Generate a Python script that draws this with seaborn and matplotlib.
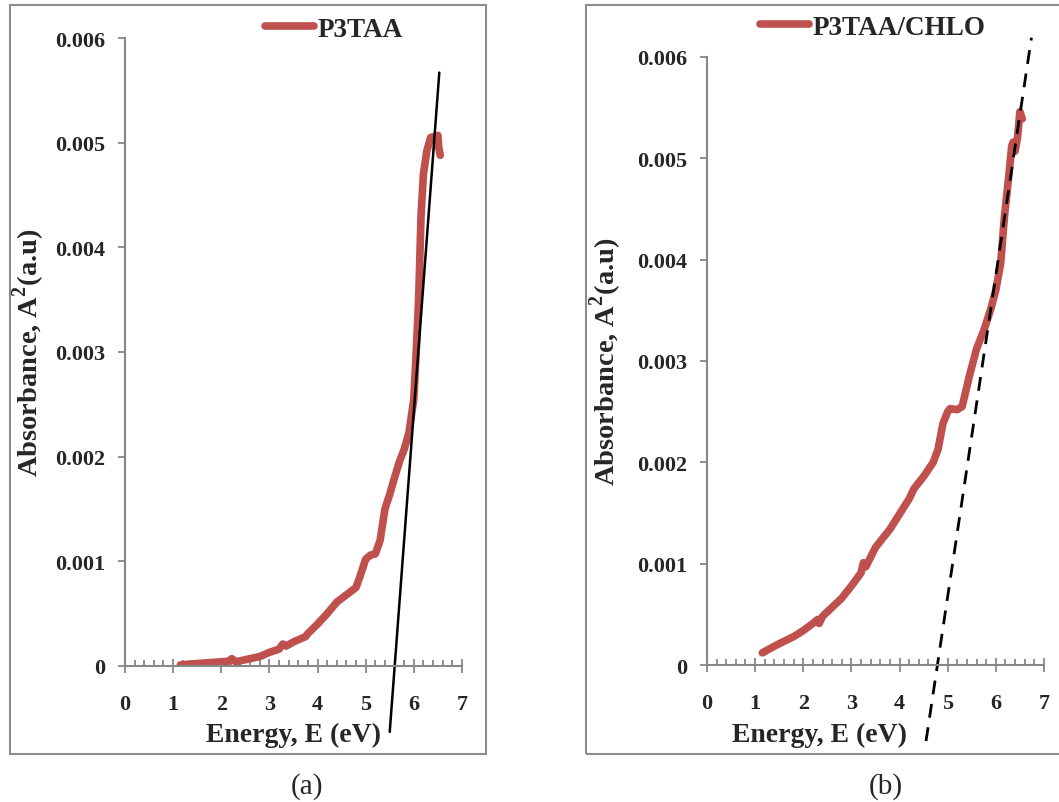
import numpy as np
import pandas as pd
import matplotlib
matplotlib.use("Agg")
import matplotlib.pyplot as plt
from matplotlib.patches import Rectangle
from matplotlib.ticker import MultipleLocator, FuncFormatter
import seaborn as sns

# P3TAA  (energy in eV, absorbance^2 in units of 1e-3)
energy_a = [1.15, 1.4, 1.7, 2.0, 2.15, 2.22, 2.3, 2.5, 2.8, 3.0, 3.2, 3.28, 3.35, 3.5,
            3.75, 3.8, 4.0, 4.2, 4.4, 4.6, 4.8, 4.9, 5.0, 5.1, 5.2, 5.3, 5.4, 5.5, 5.6,
            5.7, 5.8, 5.9, 6.0, 6.05, 6.1, 6.15, 6.2, 6.27, 6.35, 6.45, 6.5, 6.52, 6.55]
absorb_a = [0.01, 0.02, 0.03, 0.04, 0.045, 0.07, 0.04, 0.06, 0.09, 0.13, 0.16, 0.21, 0.19,
            0.23, 0.28, 0.31, 0.40, 0.50, 0.61, 0.68, 0.75, 0.88, 1.02, 1.06, 1.07, 1.2,
            1.5, 1.64, 1.8, 1.95, 2.07, 2.23, 2.55, 3.0, 3.5, 4.3, 4.7, 4.92, 5.05, 5.06,
            5.07, 4.95, 4.88]

# P3TAA/CHLO
energy_b = [1.15, 1.3, 1.5, 1.8, 2.0, 2.2, 2.3, 2.33, 2.4, 2.6, 2.8, 3.0, 3.2, 3.25, 3.3,
            3.5, 3.8, 4.0, 4.2, 4.3, 4.5, 4.7, 4.8, 4.9, 5.0, 5.05, 5.2, 5.3, 5.45, 5.6,
            5.75, 5.9, 6.0, 6.1, 6.18, 6.27, 6.33, 6.36, 6.4, 6.45, 6.5, 6.55]
absorb_b = [0.12, 0.16, 0.21, 0.28, 0.34, 0.41, 0.45, 0.41, 0.48, 0.57, 0.66, 0.78, 0.91,
            1.01, 0.97, 1.16, 1.34, 1.49, 1.64, 1.74, 1.86, 2.00, 2.13, 2.38, 2.50, 2.53,
            2.52, 2.55, 2.85, 3.12, 3.3, 3.52, 3.7, 3.96, 4.43, 4.83, 5.12, 5.16, 5.07,
            5.2, 5.46, 5.39]

# linear fits (extrapolated to the band gap)
fit_a_x = [5.50, 6.53]
fit_a_y = [-0.63, 5.67]
fit_b_x = [4.55, 6.74]
fit_b_y = [-0.75, 6.19]

x_ticks = [0, 1, 2, 3, 4, 5, 6, 7]
y_ticks = [0, 0.001, 0.002, 0.003, 0.004, 0.005, 0.006]

sns.set_theme(style="white")
plt.rcParams['font.family'] = ['Liberation Serif', 'DejaVu Serif']
plt.rcParams['font.weight'] = 'bold'
plt.rcParams['mathtext.fontset'] = 'custom'
plt.rcParams['mathtext.rm'] = 'Liberation Serif:bold'
plt.rcParams['mathtext.bf'] = 'Liberation Serif:bold'

red = '#C0504D'
grey = '#878787'

fig = plt.figure(figsize=(10.59, 8.03), dpi=100)
ax1 = fig.add_axes([0.118, 0.1694, 0.3182, 0.782])
ax2 = fig.add_axes([0.6676, 0.1706, 0.3182, 0.7572])

panels = [
    (ax1, energy_a, absorb_a, 'P3TAA', fit_a_x, fit_a_y, '-', (0.2502, 0.9626), '(a)', 0.290),
    (ax2, energy_b, absorb_b, 'P3TAA/CHLO', fit_b_x, fit_b_y, '--', (0.7177, 0.9651), '(b)', 0.836),
]

for ax, ex, ab, name, fx, fy, ls, leg_pos, cap, cap_x in panels:
    df = pd.DataFrame({'E': ex, 'A': np.array(ab) * 1e-3})
    sns.lineplot(data=df, x='E', y='A', ax=ax, color=red, lw=5.5, label=name,
                 estimator=None, sort=False, solid_capstyle='round', solid_joinstyle='round')
    if ls == '-':
        ax.plot(fx, np.array(fy) * 1e-3, color='black', lw=1.8, clip_on=False)
    else:
        ax.plot(fx, np.array(fy) * 1e-3, color='black', lw=2.0, ls=(0, (5, 3.5)), clip_on=False)

    ax.set_xlim(0, 7)
    ax.set_ylim(0, 0.006)
    ax.set_xticks(x_ticks)
    ax.set_yticks(y_ticks)
    ax.xaxis.set_minor_locator(MultipleLocator(0.2))
    ax.yaxis.set_major_formatter(FuncFormatter(lambda v, p: '0' if v == 0 else f'{v:.3f}'))

    for s in ['top', 'right']:
        ax.spines[s].set_visible(False)
    for s in ['left', 'bottom']:
        ax.spines[s].set_color(grey)
        ax.spines[s].set_linewidth(1.5)

    ax.tick_params(axis='x', which='major', direction='inout', length=10, width=1.3,
                   color=grey, pad=15, labelsize=16, bottom=True)
    ax.tick_params(axis='x', which='minor', direction='in', length=4.5, width=1.3,
                   color=grey, bottom=True)
    ax.tick_params(axis='y', which='major', direction='out', length=5, width=1.3,
                   color=grey, pad=9, labelsize=16, left=True)
    for t in ax.get_xticklabels() + ax.get_yticklabels():
        t.set_fontweight('bold')

    ax.set_xlabel('Energy, E (eV)', fontsize=20, fontweight='bold')
    ax.set_ylabel(r'Absorbance, A$^{\mathbf{2}}$(a.u)', fontsize=20.5, fontweight='bold')

    leg = ax.legend(loc='center left', bbox_to_anchor=leg_pos, bbox_transform=fig.transFigure,
                    frameon=False, fontsize=19.5, handlelength=1.8, handletextpad=0.15,
                    borderpad=0, borderaxespad=0)
    for t in leg.get_texts():
        t.set_fontweight('bold')
    for h in leg.get_lines():
        h.set_linewidth(5.5)

    fig.text(cap_x, 0.02, cap, fontsize=21, fontweight='normal', ha='center', va='center')

ax1.xaxis.set_label_coords(0.5, -0.089)
ax2.xaxis.set_label_coords(0.335, -0.093)
ax1.yaxis.set_label_coords(-0.231, 0.5)
ax2.yaxis.set_label_coords(-0.245, 0.5)

# outer frames of the two panels
fig.add_artist(Rectangle((0.0094, 0.0598), 0.4495, 0.9327, transform=fig.transFigure,
                         fill=False, edgecolor='#8c8c8c', lw=1.5))
fig.add_artist(Rectangle((0.5534, 0.0598), 0.5, 0.9327, transform=fig.transFigure,
                         fill=False, edgecolor='#8c8c8c', lw=1.5))

fig.savefig('out.png', dpi=100, facecolor='white')
